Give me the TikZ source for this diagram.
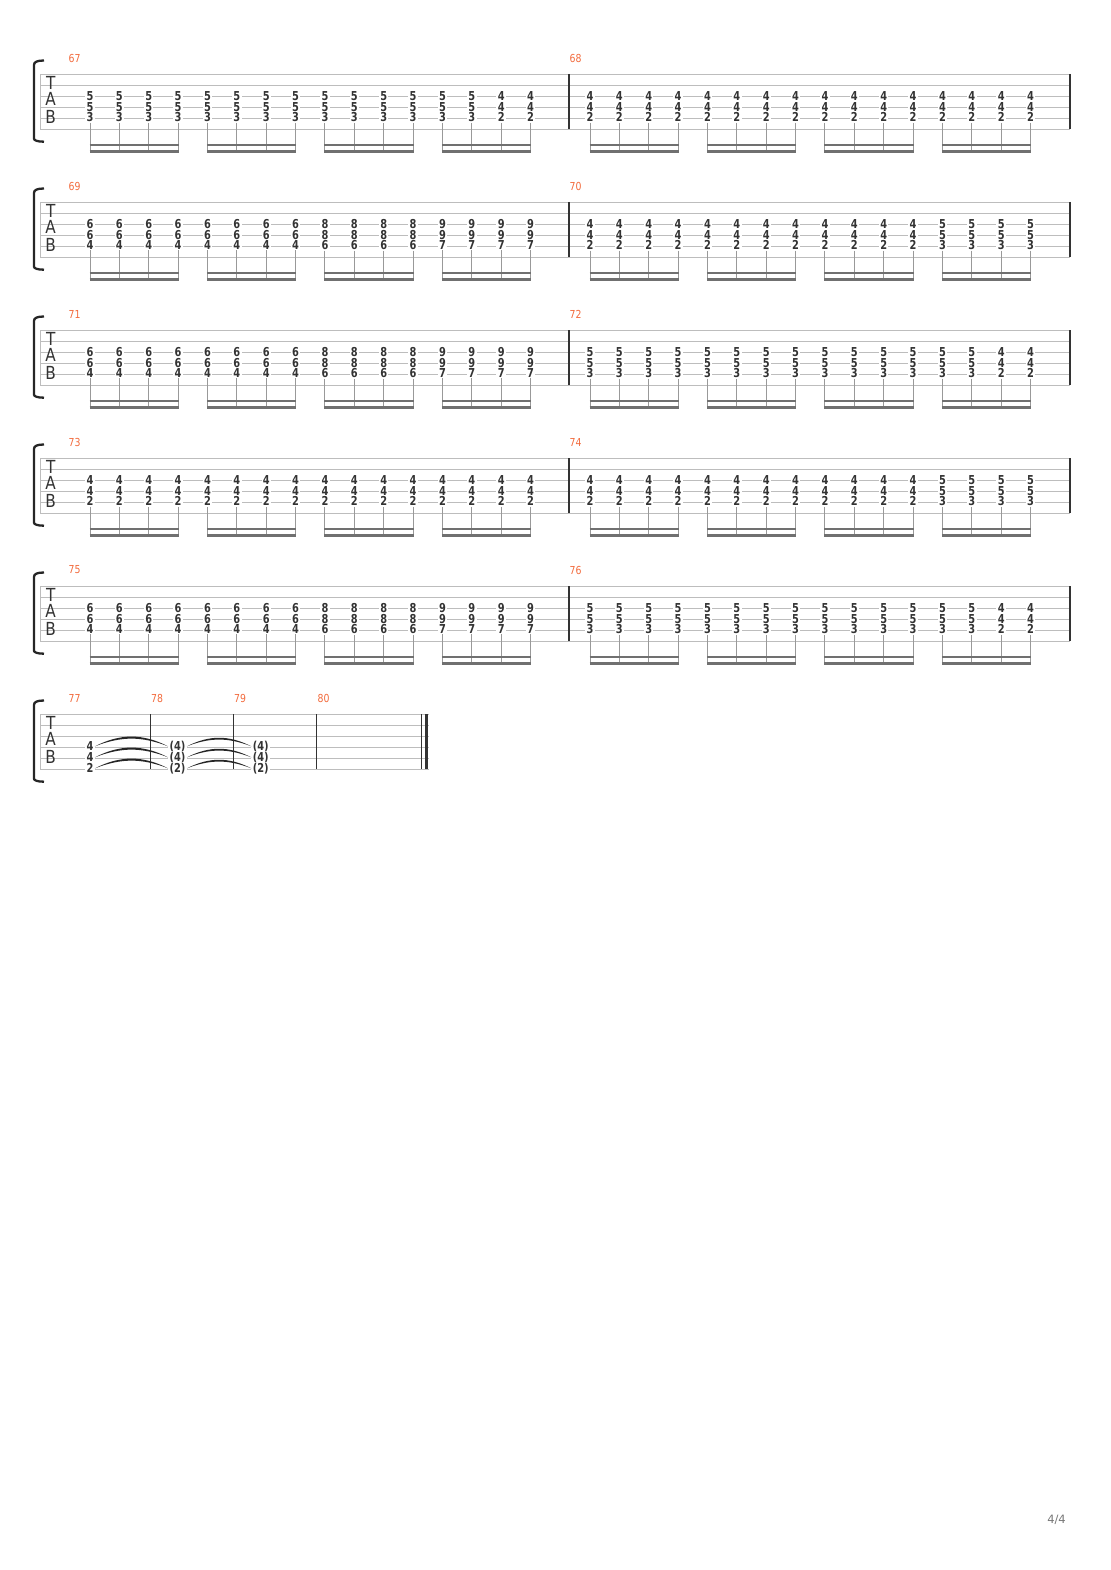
\documentclass[tikz,border=0pt]{standalone}
\usepackage{fontspec}
\setmainfont{DejaVu Sans}
\newfontfamily\fretfont[FakeStretch=0.8]{DejaVu Sans Bold}
\newfontfamily\narrowfont[FakeStretch=0.85]{DejaVu Sans}
\usepackage{tikz}

\definecolor{staffgray}{HTML}{BDBDBD}
\definecolor{inkgray}{HTML}{333333}
\definecolor{stemgray}{HTML}{999999}
\definecolor{beamgray}{HTML}{707070}
\definecolor{numorange}{HTML}{F26A3C}
\definecolor{pagegray}{HTML}{777777}

% chords of one bar, top/middle/bottom string
\def\mA{5/5/3,5/5/3,5/5/3,5/5/3,5/5/3,5/5/3,5/5/3,5/5/3,5/5/3,5/5/3,5/5/3,5/5/3,5/5/3,5/5/3,4/4/2,4/4/2}
\def\mB{4/4/2,4/4/2,4/4/2,4/4/2,4/4/2,4/4/2,4/4/2,4/4/2,4/4/2,4/4/2,4/4/2,4/4/2,4/4/2,4/4/2,4/4/2,4/4/2}
\def\mC{6/6/4,6/6/4,6/6/4,6/6/4,6/6/4,6/6/4,6/6/4,6/6/4,8/8/6,8/8/6,8/8/6,8/8/6,9/9/7,9/9/7,9/9/7,9/9/7}
\def\mD{4/4/2,4/4/2,4/4/2,4/4/2,4/4/2,4/4/2,4/4/2,4/4/2,4/4/2,4/4/2,4/4/2,4/4/2,5/5/3,5/5/3,5/5/3,5/5/3}

% #1 top line y, #2 right end x
\newcommand\tabstaff[2]{%
  \draw[bracket] (44,#1-13.5) .. controls (37,#1-13.5) and (34,#1-12) .. (34,#1-9)
    -- (34,#1+64.7) .. controls (34,#1+66.2) and (37,#1+67.7) .. (44,#1+67.7);
  \foreach \k in {0,...,5}
    \draw[line] (40,#1+11*\k) -- (#2,#1+11*\k);
  \draw[line] (40,#1) -- (40,#1+55);
  \node[clef] (t#1) at (50.7,#1+8.6) {T};
  \node[clef] (a#1) at (50.7,#1+25) {A};
  \node[clef] (b#1) at (50.7,#1+42.6) {B};
}

% #1 bar number, #2 x of first chord, #3 top line y, #4 chords
\newcommand\tabbar[4]{%
  \foreach \ta/\tb/\tc [count=\i from 0] in #4 {
    \pgfmathsetmacro\nx{#2+29.37*\i}
    \node[fret] (m#1-a-\i) at (\nx,#3+22) {\ta};
    \node[fret] (m#1-b-\i) at (\nx,#3+33) {\tb};
    \node[fret] (m#1-c-\i) at (\nx,#3+43.4) {\tc};
    \coordinate (m#1-u-\i) at (\nx,#3+71);
    \coordinate (m#1-l-\i) at (\nx,#3+77.2);
    \draw[stem] (m#1-c-\i.south) -- (m#1-l-\i);
  }
  \foreach \g in {0,4,8,12} {
    \pgfmathtruncatemacro\h{\g+3}
    \draw[beam] (m#1-u-\g) -- (m#1-u-\h);
    \draw[beam] (m#1-l-\g) -- (m#1-l-\h);
  }
}

\begin{document}
\begin{tikzpicture}
  [x=1pt,y=-1pt,
   line/.style={draw=staffgray,line width=0.9pt},
   bracket/.style={draw=black!85,line width=2.3pt},
   barline/.style={draw=inkgray,line width=1.1pt},
   clef/.style={inner sep=0pt,text=inkgray,font=\narrowfont\fontsize{18}{19}\selectfont},
   fret/.style={fill=white,inner xsep=1.3pt,inner ysep=0.4pt,text=inkgray,
     font=\fretfont\fontsize{12.3}{13}\selectfont},
   stem/.style={draw=stemgray,line width=1pt},
   beam/.style={draw=beamgray,line width=2.8pt,shorten <=-0.5pt,shorten >=-0.5pt},
   barnum/.style={anchor=west,inner sep=0pt,text=numorange,font=\narrowfont\fontsize{11}{12}\selectfont},
   tie/.style={fill=black!85},
   pagenum/.style={text=pagegray,font=\fontsize{11.5}{12}\selectfont}]

  \useasboundingbox (0,0) rectangle (1110,1570);

  % six systems, two bars each
  \foreach \sy/\la/\lb in {74/67/68, 202/69/70, 330/71/72, 458/73/74, 586/75/76} {
    \tabstaff{\sy}{1070}
    \draw[barline] (569,\sy) -- (569,\sy+55);
    \draw[barline] (1070,\sy) -- (1070,\sy+55);
    \node[barnum] (n\la) at (68.5,\sy-16) {\la};
    \node[barnum] (n\lb) at (569.5,\sy-16) {\lb};
  }
  \tabbar{67}{90}{74}{\mA}
  \tabbar{68}{590}{74}{\mB}
  \tabbar{69}{90}{202}{\mC}
  \tabbar{70}{590}{202}{\mD}
  \tabbar{71}{90}{330}{\mC}
  \tabbar{72}{590}{330}{\mA}
  \tabbar{73}{90}{458}{\mB}
  \tabbar{74}{590}{458}{\mD}
  \tabbar{75}{90}{586}{\mC}
  \tabbar{76}{590}{586}{\mA}

  % last system
  \tabstaff{714}{428.5}
  \foreach \bx/\bn in {150.3/78, 233.3/79, 316.7/80} {
    \draw[barline] (\bx,714) -- (\bx,769);
    \node[barnum] (n\bn) at (\bx+0.7,698) {\bn};
  }
  \node[barnum] (n77) at (68.5,698) {77};
  \draw[barline] (421.8,714) -- (421.8,769);
  \draw[draw=inkgray,line width=3.5pt] (426.7,714) -- (426.7,769);

  \foreach \k/\fr/\dy in {1/4/32.3, 2/4/43.3, 3/2/54.3} {
    \node[fret] (e77-\k) at (90,714+\dy) {\fr};
    \node[fret] (e78-\k) at (177.5,714+\dy) {(\fr)};
    \node[fret] (e79-\k) at (260.7,714+\dy) {(\fr)};
    \fill[tie] (e77-\k.east) to[bend left=27] (e78-\k.west)
      to[bend right=21] (e77-\k.east);
    \fill[tie] (e78-\k.east) to[bend left=27] (e79-\k.west)
      to[bend right=21] (e78-\k.east);
  }

  \node[pagenum] (pg) at (1056.5,1520) {4/4};
\end{tikzpicture}
\end{document}
